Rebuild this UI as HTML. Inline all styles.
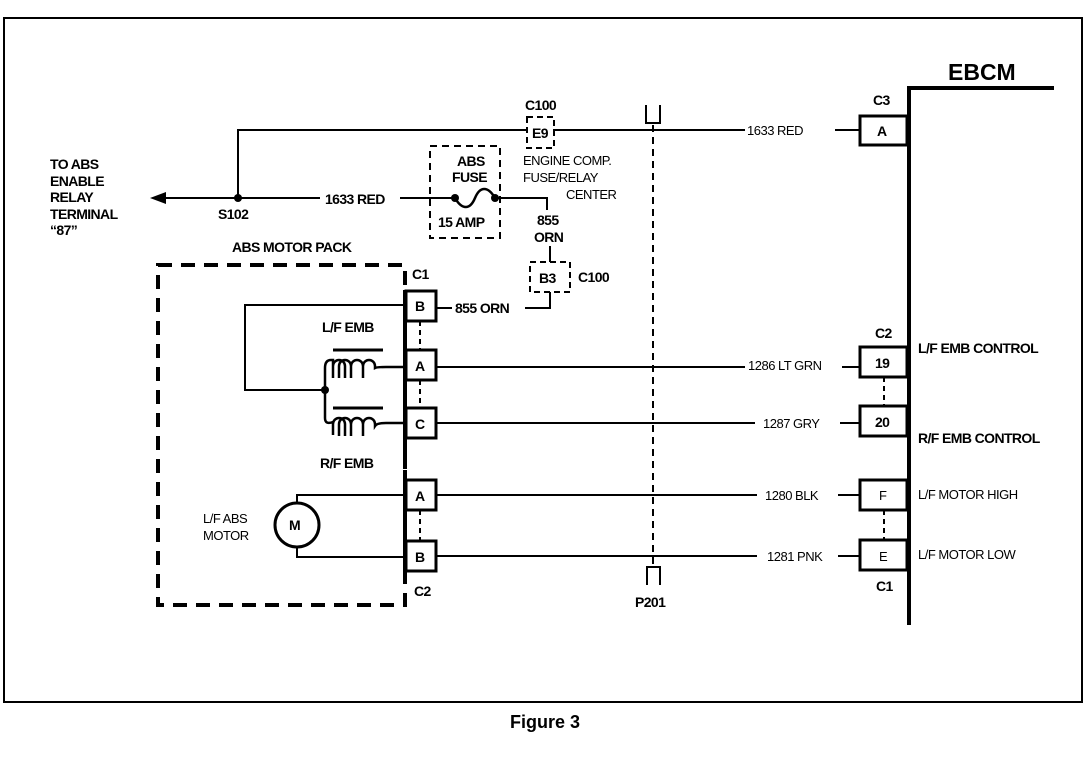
<!DOCTYPE html>
<html><head><meta charset="utf-8"><style>
html,body{margin:0;padding:0;background:#fff;}
svg{display:block;}
text{font-family:"Liberation Sans",Arial,sans-serif;fill:#000;}
.b{font-weight:bold;font-size:14px;letter-spacing:-0.6px;}
.r{font-size:13px;letter-spacing:-0.5px;}
</style></head><body>
<svg width="1088" height="768" viewBox="0 0 1088 768" xmlns="http://www.w3.org/2000/svg">
<rect x="4" y="18" width="1078" height="684" fill="none" stroke="#000" stroke-width="2"/>
<g stroke="#000" fill="none" stroke-width="2">
<polyline points="238,198 238,130 527,130"/>
<line x1="553" y1="130" x2="745" y2="130"/>
<line x1="835" y1="130" x2="860" y2="130"/>
<rect x="527" y="117" width="27" height="31" stroke-dasharray="6,4"/>
<polyline points="1054,88 909,88 909,625" stroke-width="4"/>
<rect x="860" y="116" width="47" height="29" stroke-width="3"/>
<rect x="860" y="347" width="47" height="30" stroke-width="3"/>
<rect x="860" y="406" width="47" height="30" stroke-width="3"/>
<rect x="860" y="480" width="47" height="30" stroke-width="3"/>
<rect x="860" y="540" width="47" height="30" stroke-width="3"/>
<line x1="884" y1="377" x2="884" y2="406" stroke-dasharray="5,4"/>
<line x1="884" y1="510" x2="884" y2="540" stroke-dasharray="5,4"/>
<line x1="160" y1="198" x2="320" y2="198"/>
<line x1="400" y1="198" x2="455" y2="198"/>
<path d="M455,198 C462,210 470,210 475,198 C480,186 488,186 495,198" stroke-width="2.5"/>
<polyline points="495,198 547,198 547,210"/>
<polyline points="550,246 550,262"/>
<rect x="530" y="262" width="40" height="30" stroke-dasharray="6,4"/>
<polyline points="550,292 550,308 525,308"/>
<line x1="436" y1="308" x2="452" y2="308"/>
<rect x="430" y="146" width="70" height="92" stroke-dasharray="7,5"/>
<line x1="653" y1="125" x2="653" y2="568" stroke-dasharray="7,5"/>
<polyline points="646,105 646,123 660,123 660,105"/>
<polyline points="647,585 647,567 660,567 660,585"/>
<rect x="158" y="265" width="247" height="340" stroke-width="4" stroke-dasharray="14,9"/>
<line x1="405" y1="290" x2="405" y2="455" stroke-width="4"/>
<line x1="405" y1="470" x2="405" y2="575" stroke-width="4"/>
<rect x="406" y="291" width="30" height="30" stroke-width="3"/>
<rect x="406" y="350" width="30" height="30" stroke-width="3"/>
<rect x="406" y="408" width="30" height="30" stroke-width="3"/>
<rect x="406" y="480" width="30" height="30" stroke-width="3"/>
<rect x="406" y="541" width="30" height="30" stroke-width="3"/>
<line x1="420" y1="321" x2="420" y2="350" stroke-dasharray="5,4"/>
<line x1="420" y1="380" x2="420" y2="408" stroke-dasharray="5,4"/>
<line x1="420" y1="510" x2="420" y2="541" stroke-dasharray="5,4"/>
<polyline points="405,305 245,305 245,390 325,390"/>
<line x1="333" y1="350" x2="383" y2="350" stroke-width="3"/>
<line x1="333" y1="408" x2="383" y2="408" stroke-width="3"/>
<!-- upper coil -->
<path d="M325,390 V368 Q325,360 331,360 H333 V378 M333,366 a6,6 0 0 1 12,0 v12 M339,378 v-12 a6,6 0 0 1 12,0 v12 M351,378 v-12 a6,6 0 0 1 12,0 v12 M363,378 v-12 a6,6 0 0 1 12,0 v2 Q377,367 386,367 H405" stroke-width="2.5"/>
<!-- lower coil -->
<path d="M325,390 V418 Q325,425 333,422 M333,435 V424 a6,6 0 0 1 12,0 v12 M339,436 v-12 a6,6 0 0 1 12,0 v12 M351,436 v-12 a6,6 0 0 1 12,0 v12 M363,436 v-12 a6,6 0 0 1 12,0 v2 Q377,423 386,423 H405" stroke-width="2.5"/>
<circle cx="297" cy="525" r="22" stroke-width="3"/>
<polyline points="297,503 297,495 405,495"/>
<polyline points="297,547 297,557 405,557"/>
<line x1="436" y1="367" x2="745" y2="367"/><line x1="842" y1="367" x2="860" y2="367"/>
<line x1="436" y1="423" x2="755" y2="423"/><line x1="840" y1="423" x2="860" y2="423"/>
<line x1="436" y1="495" x2="757" y2="495"/><line x1="838" y1="495" x2="860" y2="495"/>
<line x1="436" y1="556" x2="757" y2="556"/><line x1="838" y1="556" x2="860" y2="556"/>
</g>
<polygon points="150,198 166,192 166,204" fill="#000"/>
<circle cx="238" cy="198" r="4"/>
<circle cx="455" cy="198" r="4"/>
<circle cx="495" cy="198" r="4"/>
<circle cx="325" cy="390" r="4"/>
<text x="948" y="80" style="font-weight:bold;font-size:23px">EBCM</text>
<text class="b" x="873" y="105">C3</text>
<text class="b" x="877" y="136" font-size="13">A</text>
<text class="r" x="747" y="135">1633 RED</text>
<text class="b" x="525" y="110">C100</text>
<text class="b" x="532" y="138" font-size="12">E9</text>
<text class="r" x="523" y="165">ENGINE COMP.</text>
<text class="r" x="523" y="182">FUSE/RELAY</text>
<text class="r" x="566" y="199">CENTER</text>
<text class="b" x="50" y="169">TO ABS</text>
<text class="b" x="50" y="186">ENABLE</text>
<text class="b" x="50" y="202">RELAY</text>
<text class="b" x="50" y="219">TERMINAL</text>
<text class="b" x="50" y="235">“87”</text>
<text class="b" x="218" y="219">S102</text>
<text class="b" x="325" y="204">1633 RED</text>
<text class="b" x="457" y="166">ABS</text>
<text class="b" x="452" y="182">FUSE</text>
<text class="b" x="438" y="227">15 AMP</text>
<text class="b" x="537" y="225">855</text>
<text class="b" x="534" y="242">ORN</text>
<text class="b" x="539" y="283">B3</text>
<text class="b" x="578" y="282">C100</text>
<text class="b" x="455" y="313">855 ORN</text>
<text class="b" x="232" y="252">ABS MOTOR PACK</text>
<text class="b" x="412" y="279">C1</text>
<text class="b" x="415" y="311">B</text>
<text class="b" x="415" y="371">A</text>
<text class="b" x="415" y="429">C</text>
<text class="b" x="415" y="501">A</text>
<text class="b" x="415" y="562">B</text>
<text class="b" x="414" y="596">C2</text>
<text class="b" x="322" y="332">L/F EMB</text>
<text class="b" x="320" y="468">R/F EMB</text>
<text class="r" x="203" y="523">L/F ABS</text>
<text class="r" x="203" y="540">MOTOR</text>
<text class="b" x="289" y="530" font-size="13">M</text>
<text class="b" x="635" y="607">P201</text>
<text class="r" x="748" y="370">1286 LT GRN</text>
<text class="r" x="763" y="428">1287 GRY</text>
<text class="r" x="765" y="500">1280 BLK</text>
<text class="r" x="767" y="561">1281 PNK</text>
<text class="b" x="875" y="338" font-size="13">C2</text>
<text class="b" x="875" y="368">19</text>
<text class="b" x="875" y="427">20</text>
<text class="r" x="879" y="500">F</text>
<text class="r" x="879" y="561">E</text>
<text class="b" x="876" y="591">C1</text>
<text class="b" x="918" y="353">L/F EMB CONTROL</text>
<text class="b" x="918" y="443">R/F EMB CONTROL</text>
<text class="r" x="918" y="499">L/F MOTOR HIGH</text>
<text class="r" x="918" y="559">L/F MOTOR LOW</text>
<text x="510" y="728" style="font-weight:bold;font-size:18px">Figure 3</text>
</svg>
</body></html>
